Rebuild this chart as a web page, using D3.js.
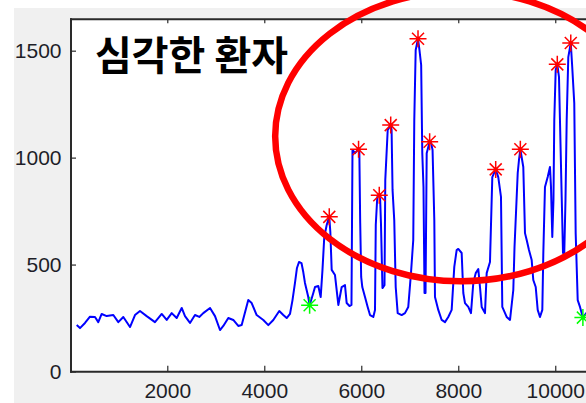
<!DOCTYPE html>
<html>
<head>
<meta charset="utf-8">
<script src="https://cdn.jsdelivr.net/npm/d3@7"></script>
<style>
  html, body { margin: 0; padding: 0; background: #ffffff; }
  svg { display: block; }
</style>
</head>
<body>
<svg id="chart" width="586" height="403"></svg>
<script>
// Signal trace: sample position and intensity
const sampleX = [
  132, 200, 303, 406, 509, 577, 647, 751, 887, 990, 1093, 1231, 1334, 1437, 1575, 1746, 1885, 1988,
  2091, 2194, 2297, 2365, 2468, 2571, 2660, 2742, 2881, 2984, 3087, 3155, 3258, 3361, 3464, 3534,
  3670, 3740, 3843, 3980, 4083, 4186, 4309, 4392, 4462, 4530, 4582, 4633, 4674, 4716, 4767, 4804,
  4839, 4907, 4935, 5011, 5046, 5114, 5163, 5200, 5237, 5287, 5340, 5362, 5390, 5458, 5527, 5596,
  5664, 5699, 5757, 5798, 5819, 5870, 5944, 5960, 5978, 5998, 6021, 6077, 6132, 6180, 6248, 6283,
  6299, 6330, 6371, 6390, 6406, 6437, 6479, 6495, 6545, 6607, 6625, 6645, 6680, 6710, 6751, 6833,
  6901, 6969, 7025, 7072, 7093, 7122, 7170, 7200, 7235, 7258, 7283, 7304, 7325, 7349, 7410, 7440,
  7470, 7506, 7520, 7588, 7658, 7726, 7794, 7864, 7918, 7967, 8000, 8070, 8104, 8139, 8207, 8262,
  8310, 8360, 8413, 8448, 8483, 8551, 8586, 8654, 8702, 8772, 8825, 8881, 8908, 8998, 9067, 9135,
  9160, 9226, 9252, 9280, 9341, 9376, 9411, 9458, 9514, 9547, 9597, 9638, 9685, 9733, 9754, 9788,
  9844, 9891, 9912, 9939, 9963, 9980, 10009, 10042, 10077, 10097, 10133, 10160, 10186, 10211, 10236,
  10269, 10320, 10350, 10392, 10421, 10463, 10510, 10570, 10640, 10720
];
const sampleY = [
  217, 203, 227, 256, 255, 231, 269, 259, 264, 231, 255, 208, 264, 283, 259, 231, 269, 241,
  273, 250, 297, 259, 227, 264, 255, 273, 297, 259, 194, 213, 250, 241, 213, 217,
  334, 320, 264, 241, 217, 241, 283, 264, 250, 269, 334, 414, 484, 512, 507, 465,
  414, 348, 310, 367, 395, 400, 348, 475, 629, 685, 723, 652, 475, 451, 311, 395,
  404, 320, 306, 311, 1036, 1021, 1039, 1030, 694, 442, 395, 348, 302, 264, 255, 288,
  685, 816, 824, 802, 694, 390, 404, 895, 1129, 1152, 1129, 849, 708, 395, 273, 264,
  273, 302, 460, 615, 1176, 1503, 1556, 1503, 1433, 1021, 863, 367, 367, 1021, 1074, 1068,
  1036, 708, 348, 288, 241, 231, 255, 288, 489, 568, 573, 554, 367, 320, 302, 273,
  414, 460, 479, 395, 302, 273, 460, 512, 909, 945, 909, 816, 302, 255, 241, 381,
  582, 928, 989, 1039, 956, 647, 615, 568, 521, 428, 395, 288, 255, 288, 554, 863,
  909, 956, 863, 629, 802, 1176, 1410, 1436, 1377, 1176, 816, 554, 554, 802, 1176,
  1470, 1536, 1424, 1255, 647, 334, 302, 252, 273, 264
];

// Detected peaks (red) and boundary points (green)
const peakX = [5340, 5944, 6371, 6607, 7170, 7410, 8772, 9280, 10042, 10320];
const peakY = [723, 1039, 824, 1152, 1556, 1074, 945, 1039, 1436, 1536];
const edgeX = [4935, 10570];
const edgeY = [310, 252];

// Axis ticks
const xTicks = [2000, 4000, 6000, 8000, 10000];
const yTicks = [0, 500, 1000, 1500];
const titleText = "심각한 환자";

const svg = d3.select("#chart");
const W = 586, H = 403;

// figure background
svg.append("rect").attr("x", 14).attr("y", 8).attr("width", W - 14).attr("height", H - 8)
  .attr("fill", "#f0f0f0");

const plotLeft = 71, plotTop = 19.2, plotBottom = 371.8;
const x = d3.scaleLinear().domain([0, 10634]).range([70.3, 586]);
const y = d3.scaleLinear().domain([0, 1650]).range([371.5, 18.6]);

// axes area
svg.append("rect").attr("x", plotLeft).attr("y", plotTop).attr("width", W - plotLeft + 10)
  .attr("height", plotBottom - plotTop).attr("fill", "#ffffff");

svg.append("clipPath").attr("id", "plotclip")
  .append("rect").attr("x", plotLeft).attr("y", plotTop).attr("width", W - plotLeft + 10)
  .attr("height", plotBottom - plotTop);

// signal line
const pts = sampleX.map((v, i) => [v, sampleY[i]]);
svg.append("path")
  .attr("clip-path", "url(#plotclip)")
  .attr("d", d3.line().x(d => x(d[0])).y(d => y(d[1]))(pts))
  .attr("fill", "none")
  .attr("stroke", "#0000ff")
  .attr("stroke-width", 2)
  .attr("stroke-linejoin", "round");

// asterisk markers
function star(g, cx, cy, color) {
  const s = g.append("g").attr("transform", `translate(${cx},${cy})`)
    .attr("stroke", color).attr("stroke-width", 1.5).attr("fill", "none");
  const a = 8.5, b = 6;
  s.append("line").attr("x1", -a).attr("x2", a).attr("y1", 0).attr("y2", 0);
  s.append("line").attr("x1", 0).attr("x2", 0).attr("y1", -a).attr("y2", a);
  s.append("line").attr("x1", -b).attr("x2", b).attr("y1", -b).attr("y2", b);
  s.append("line").attr("x1", -b).attr("x2", b).attr("y1", b).attr("y2", -b);
  s.append("circle").attr("r", 2.2).attr("fill", color).attr("stroke", "none");
}
const markers = svg.append("g").attr("clip-path", "url(#plotclip)");
peakX.forEach((v, i) => star(markers, x(v), y(peakY[i]), "#ff0000"));
edgeX.forEach((v, i) => star(markers, x(v), y(edgeY[i]), "#00ff00"));

// axis lines
const axisColor = "#2a2a2a";
svg.append("line").attr("x1", plotLeft).attr("x2", plotLeft).attr("y1", plotTop - 1).attr("y2", plotBottom + 1)
  .attr("stroke", axisColor).attr("stroke-width", 2);
svg.append("line").attr("x1", plotLeft - 1).attr("x2", W + 5).attr("y1", plotTop).attr("y2", plotTop)
  .attr("stroke", axisColor).attr("stroke-width", 2);
svg.append("line").attr("x1", plotLeft - 1).attr("x2", W + 5).attr("y1", plotBottom).attr("y2", plotBottom)
  .attr("stroke", axisColor).attr("stroke-width", 2);

// ticks (inward) and labels
const labelFont = "'Liberation Sans', Arial, sans-serif";
const fmt = d3.format("d");
const xb = d3.axisBottom(x).tickValues(xTicks).tickSize(-6).tickPadding(12).tickFormat(fmt);
const gx = svg.append("g").attr("transform", `translate(0,${plotBottom})`).call(xb);
gx.select(".domain").remove();
gx.selectAll(".tick line").attr("stroke", axisColor).attr("stroke-width", 1.2);
gx.selectAll(".tick text").attr("font-family", labelFont).attr("font-size", 21)
  .attr("fill", "#1e1e28").attr("dy", "0.71em").attr("y", 11.5);

const xt = d3.axisTop(x).tickValues(xTicks).tickSize(-4).tickFormat("");
const gxt = svg.append("g").attr("transform", `translate(0,${plotTop})`).call(xt);
gxt.select(".domain").remove();
gxt.selectAll(".tick line").attr("stroke", axisColor).attr("stroke-width", 1.2);

const yl = d3.axisLeft(y).tickValues(yTicks).tickSize(-5).tickPadding(10).tickFormat(fmt);
const gy = svg.append("g").attr("transform", `translate(${plotLeft},0)`).call(yl);
gy.select(".domain").remove();
gy.selectAll(".tick line").attr("stroke", axisColor).attr("stroke-width", 1.2);
gy.selectAll(".tick text").attr("font-family", labelFont).attr("font-size", 21)
  .attr("fill", "#1e1e28").attr("x", -9.5);

// title
svg.append("text").attr("x", 95).attr("y", 70)
  .attr("font-family", "'Noto Sans CJK KR', sans-serif").attr("font-weight", "bold")
  .attr("font-size", 40).attr("fill", "#000").text(titleText);

// highlight ellipse around the peak cluster
svg.append("ellipse")
  .attr("cx", x(8060)).attr("cy", y(1100))
  .attr("rx", 186).attr("ry", 145)
  .attr("fill", "none").attr("stroke", "#ff0000").attr("stroke-width", 6.5);
</script>
</body>
</html>
